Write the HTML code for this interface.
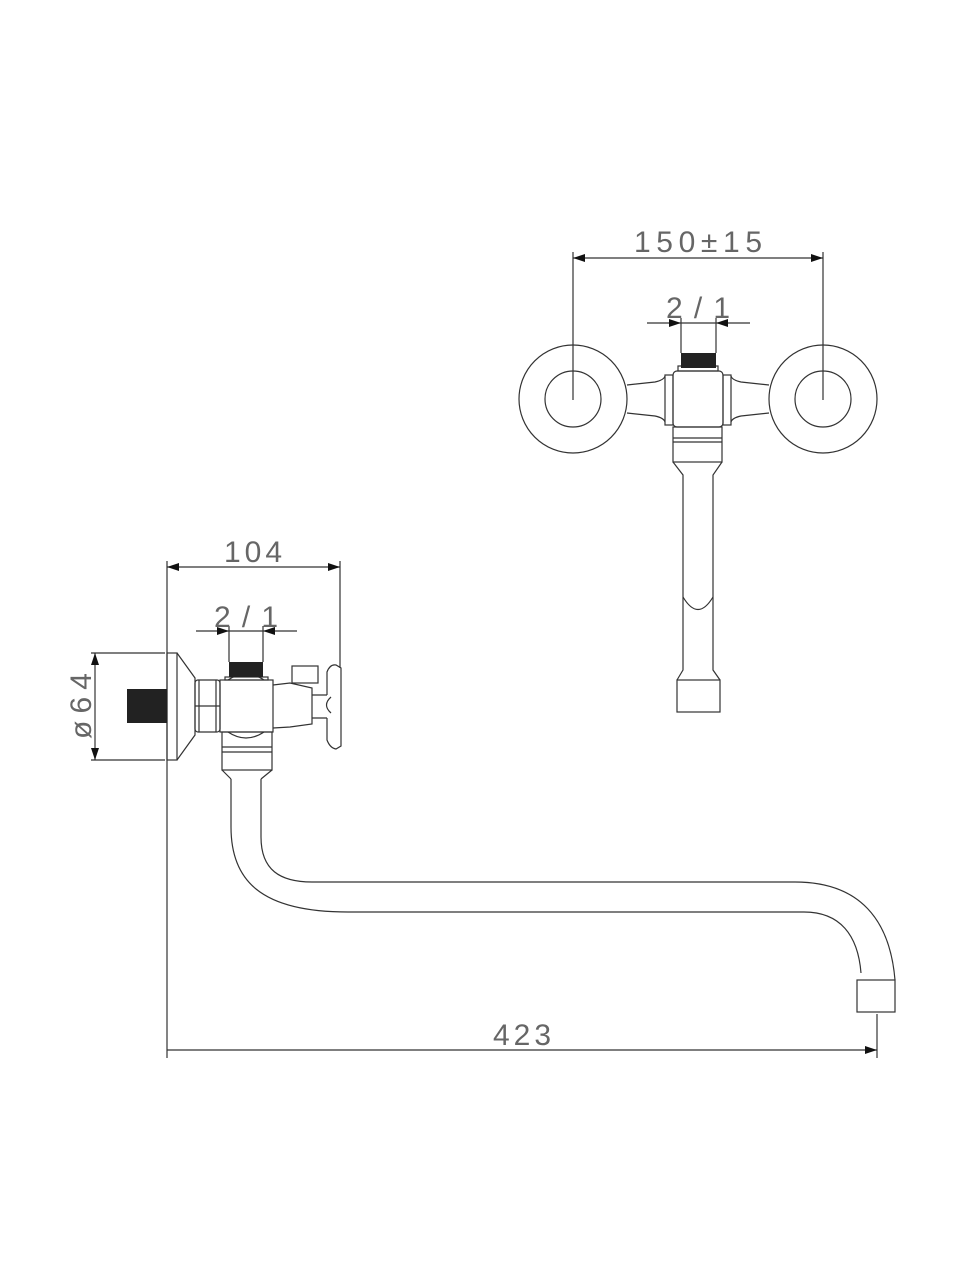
<!DOCTYPE html>
<html><head><meta charset="utf-8"><style>
html,body{margin:0;padding:0;background:#fff;}
svg{display:block;}
text{font-family:"Liberation Sans",sans-serif;fill:#666;font-weight:normal;}
</style></head><body>
<svg width="960" height="1280" viewBox="0 0 960 1280" xmlns="http://www.w3.org/2000/svg">
<defs>
<marker id="a" viewBox="0 0 12 8" refX="12" refY="4" markerWidth="12" markerHeight="8" markerUnits="userSpaceOnUse" orient="auto-start-reverse"><path d="M0,0 L12,4 L0,8 Z" fill="#111"/></marker>
</defs>
<g fill="none" stroke="#333" stroke-width="1.2">
<!-- ===== TOP RIGHT VIEW ===== -->
<line x1="573" y1="252" x2="573" y2="400"/>
<line x1="823" y1="252" x2="823" y2="400"/>
<line x1="573" y1="258" x2="823" y2="258" marker-start="url(#a)" marker-end="url(#a)"/>
<line x1="647" y1="323" x2="681" y2="323" marker-end="url(#a)"/>
<line x1="750" y1="323" x2="716" y2="323" marker-end="url(#a)"/>
<line x1="681" y1="323" x2="716" y2="323"/>
<line x1="681" y1="318" x2="681" y2="353"/>
<line x1="716" y1="318" x2="716" y2="353"/>
<circle cx="573" cy="399" r="54"/><circle cx="573" cy="399" r="28"/>
<circle cx="823" cy="399" r="54"/><circle cx="823" cy="399" r="28"/>
<path d="M627,385 L655,382 Q664,380 665,376 M627,413 L655,416 Q664,418 665,422"/>
<path d="M769,385 L741,382 Q732,380 731,376 M769,413 L741,416 Q732,418 731,422"/>
<rect x="665" y="375" width="8" height="50"/><rect x="723" y="375" width="8" height="50"/>
<rect x="673" y="371" width="50" height="56" rx="4"/>
<rect x="678" y="366" width="40" height="5"/>
<rect x="673" y="427" width="49" height="35"/>
<line x1="673" y1="438" x2="722" y2="438"/><line x1="673" y1="442" x2="722" y2="442"/>
<path d="M673,462 L683,475 L683,670 L677,680 M722,462 L713,475 L713,670 L720,680"/>
<path d="M683,597 Q698,622 713,597"/>
<rect x="677" y="680" width="43" height="32"/>
<!-- ===== LEFT SIDE VIEW ===== -->
<line x1="167" y1="561" x2="167" y2="1058"/>
<line x1="340" y1="561" x2="340" y2="668"/>
<line x1="167" y1="567" x2="340" y2="567" marker-start="url(#a)" marker-end="url(#a)"/>
<line x1="196" y1="631" x2="229" y2="631" marker-end="url(#a)"/>
<line x1="297" y1="631" x2="263" y2="631" marker-end="url(#a)"/>
<line x1="229" y1="631" x2="263" y2="631"/>
<line x1="229" y1="626" x2="229" y2="662"/>
<line x1="263" y1="626" x2="263" y2="662"/>
<line x1="91" y1="653" x2="165" y2="653"/>
<line x1="91" y1="760" x2="165" y2="760"/>
<line x1="95" y1="653" x2="95" y2="760" marker-start="url(#a)" marker-end="url(#a)"/>
<rect x="167" y="653" width="10" height="107"/>
<path d="M177,653 L195,678 L195,735 L177,760"/>
<rect x="195" y="680" width="25" height="52" rx="3"/>
<line x1="195" y1="706" x2="220" y2="706"/>
<path d="M199,680 L199,732 M216,680 L216,732"/>
<rect x="220" y="680" width="53" height="52"/>
<path d="M228,680 Q246,668 264,680 M228,732 Q246,744 264,732"/>
<rect x="225" y="677" width="43" height="3"/>
<path d="M273,685 L290,683 L312,688 L312,724 L290,727 L273,728"/>
<rect x="292" y="666" width="26" height="17"/>
<path d="M312,695 L327,695 M312,718 L327,718"/>
<path d="M327,695 L327,672 Q330,664 336,665 L341,668 L341,746 L336,749 Q330,748 327,740 L327,718"/>
<path d="M331,697 Q322,705 331,713"/>
<rect x="222" y="732" width="50" height="38"/>
<line x1="222" y1="747" x2="272" y2="747"/><line x1="222" y1="752" x2="272" y2="752"/>
<path d="M222,770 L231,779 M272,770 L261,779"/>
<!-- spout -->
<path d="M231,779 L231,827 C231,880 260,912 348,912 L804,912 C840,912 858,935 861,973"/>
<path d="M261,779 L261,837 C261,870 280,882 312,882 L795,882 C860,882 890,920 895,980"/>
<rect x="857" y="980" width="38" height="32"/>
<line x1="877" y1="1014" x2="877" y2="1058"/>
<line x1="167" y1="1050" x2="877" y2="1050" marker-end="url(#a)"/>
</g>
<g fill="#222">
<rect x="681" y="353" width="35" height="15"/>
<rect x="229" y="662" width="34" height="15"/>
<rect x="127" y="689" width="40" height="34"/>
</g>
<text x="698" y="252" font-size="30" text-anchor="middle" textLength="128">150±15</text>
<text x="698" y="318" font-size="30" text-anchor="middle" textLength="64">2/1</text>
<text x="253" y="562" font-size="30" text-anchor="middle" textLength="58">104</text>
<text x="246" y="627" font-size="30" text-anchor="middle" textLength="64">2/1</text>
<text x="522" y="1045" font-size="30" text-anchor="middle" textLength="58">423</text>
<text transform="translate(91,706) rotate(-90)" font-size="30" text-anchor="middle" textLength="66">ø64</text>
</svg>
</body></html>
